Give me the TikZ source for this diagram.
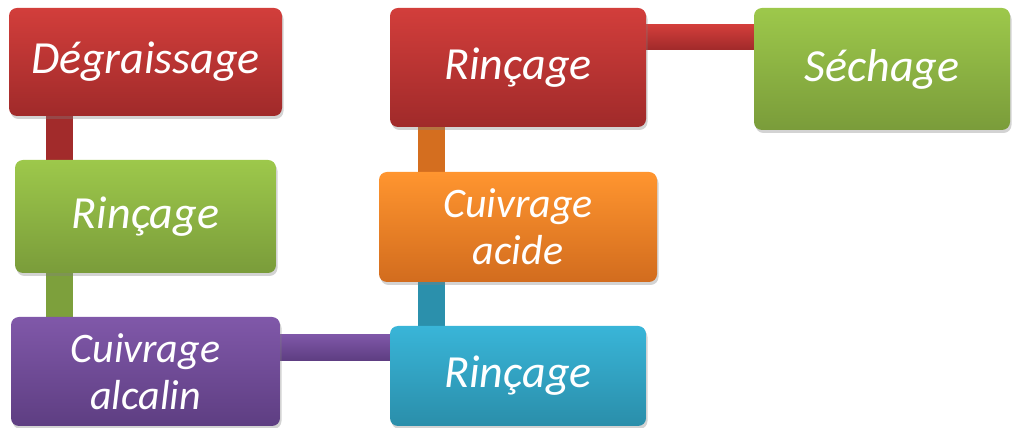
\documentclass[tikz,border=0pt]{standalone}
\usepackage{fontspec}
\setmainfont{Carlito}
\usetikzlibrary{calc,shadows}
\definecolor{redT}{HTML}{D23E3B}
\definecolor{redB}{HTML}{A02A2A}
\definecolor{grnT}{HTML}{9DC84B}
\definecolor{grnB}{HTML}{7A9C3A}
\definecolor{purT}{HTML}{8058A9}
\definecolor{purB}{HTML}{5E3E82}
\definecolor{bluT}{HTML}{39B5D8}
\definecolor{bluB}{HTML}{2A8EAA}
\definecolor{orgT}{HTML}{FF952F}
\definecolor{orgB}{HTML}{D26C1E}
\pgfdeclarelayer{bg}
\pgfsetlayers{bg,main}
\tikzset{
  stepbox/.style={rounded corners=8pt, inner sep=0pt, text=white, align=center,
    font=\fontsize{46}{50}\selectfont\itshape,
    drop shadow={opacity=0.35, shadow xshift=1.5pt, shadow yshift=-3pt}},
  twoline/.style={font=\fontsize{42}{47}\selectfont\itshape},
  redbox/.style={stepbox, top color=redT, bottom color=redB},
  grnbox/.style={stepbox, top color=grnT, bottom color=grnB},
  purbox/.style={stepbox, top color=purT, bottom color=purB},
  blubox/.style={stepbox, top color=bluT, bottom color=bluB},
  orgbox/.style={stepbox, top color=orgT, bottom color=orgB},
}
\begin{document}
\begin{tikzpicture}[x=1pt,y=1pt]
\useasboundingbox (0,0) rectangle (1012,428);
\node[redbox, minimum width=273pt, minimum height=108pt] (deg) at (145.5,366) {Dégraissage};
\node[grnbox, minimum width=261pt, minimum height=113pt] (rin1) at (145.5,211.5) {Rinçage};
\node[purbox, twoline, minimum width=269pt, minimum height=109pt] (alc) at (145.5,56.5) {Cuivrage\\alcalin};
\node[blubox, minimum width=256pt, minimum height=100pt] (rin2) at (518,52) {Rinçage};
\node[orgbox, twoline, minimum width=278pt, minimum height=110pt] (acide) at (518,201) {Cuivrage\\acide};
\node[redbox, minimum width=256pt, minimum height=119pt] (rin3) at (518,360.5) {Rinçage};
\node[grnbox, minimum width=256pt, minimum height=122pt] (sech) at (882,359) {Séchage};
\begin{pgfonlayer}{bg}
\fill[redB!95!redT] ($(deg.south west)+(37,0)$) rectangle ($(rin1.north west)+(58,0)$);
\fill[grnB!90!grnT] ($(rin1.south west)+(31,0)$) rectangle ($(alc.north west)+(62,0)$);
\shade[top color=purT, bottom color=purB] ($(alc.south east)+(0,66)$) rectangle ($(rin2.south west)+(0,92)$);
\fill[bluB!95!bluT] ($(rin2.north west)+(28,0)$) rectangle ($(acide.south west)+(66,0)$);
\fill[orgB!95!orgT] ($(acide.north west)+(39,0)$) rectangle ($(rin3.south west)+(55,0)$);
\shade[top color=redT, bottom color=redB] ($(rin3.north east)+(0,-17)$) rectangle ($(sech.north west)+(0,-42)$);
\end{pgfonlayer}
\end{tikzpicture}
\end{document}
